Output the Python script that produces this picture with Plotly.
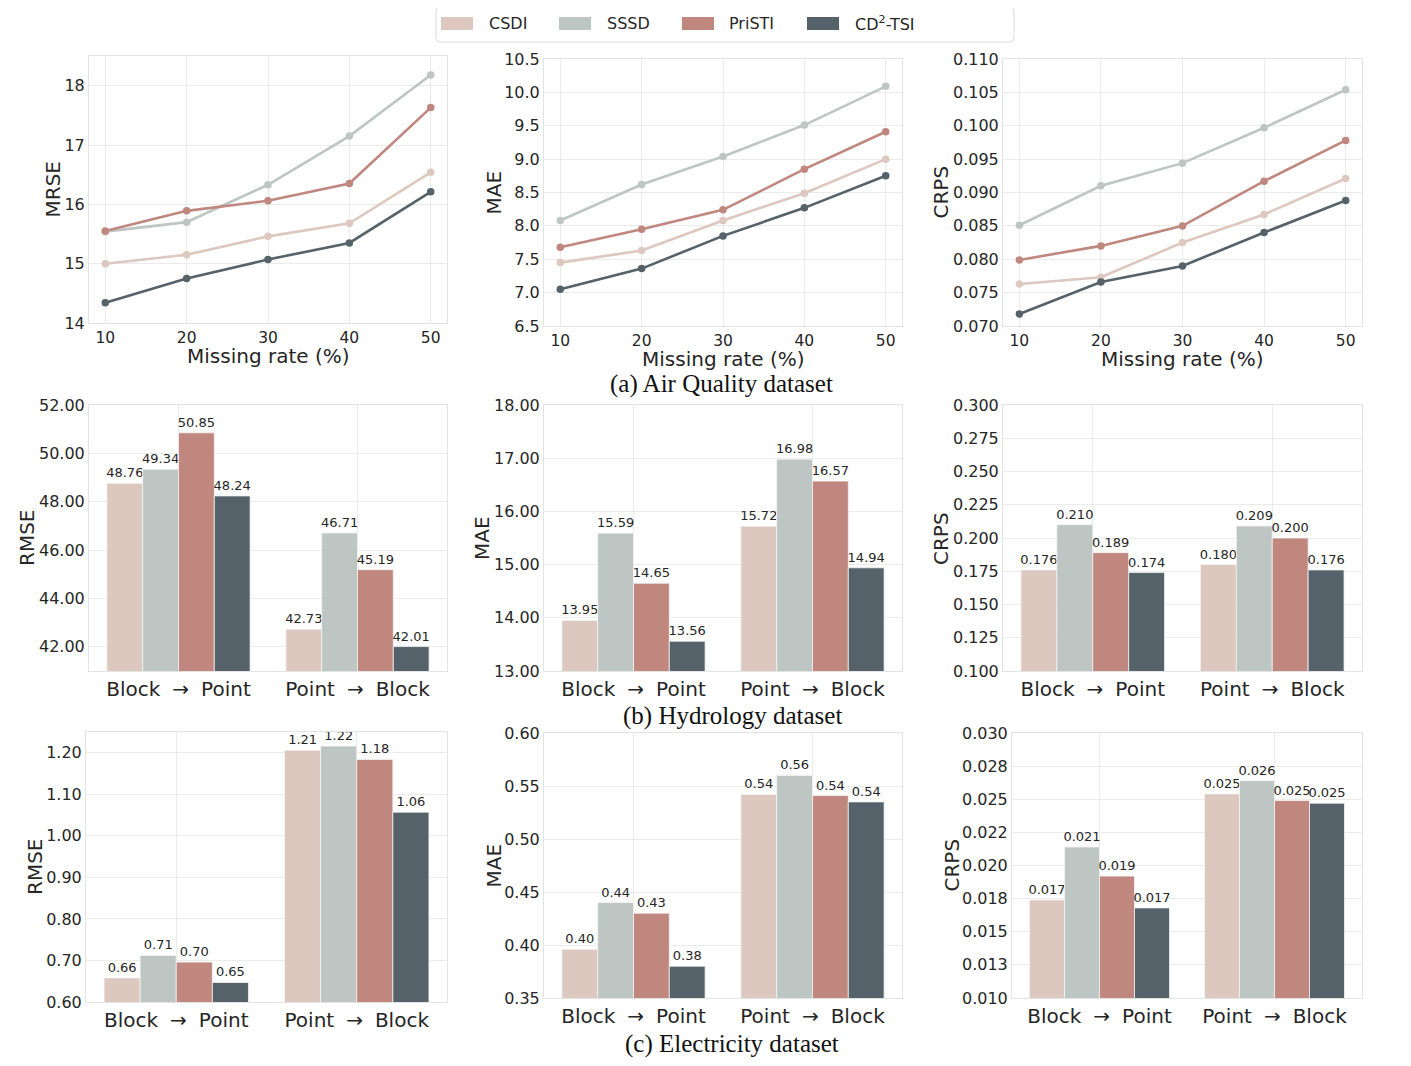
import plotly.graph_objects as go

W, H = 1411, 1066
OFF = 8  # page body margin of the rendered html

methods = ["CSDI", "SSSD", "PriSTI", "CD<sup>2</sup>-TSI"]
colors = ["#DCC8BF", "#BDC6C2", "#BF877E", "#55626A"]

# ---------------- (a) Air Quality dataset (line charts) ----------------
missing_rate = [10, 20, 30, 40, 50]

aq_mrse_csdi = [15.00, 15.15, 15.46, 15.68, 16.54]
aq_mrse_sssd = [15.54, 15.70, 16.33, 17.15, 18.18]
aq_mrse_pristi = [15.55, 15.89, 16.06, 16.35, 17.63]
aq_mrse_cd2tsi = [14.34, 14.75, 15.07, 15.35, 16.21]

aq_mae_csdi = [7.45, 7.63, 8.08, 8.49, 9.00]
aq_mae_sssd = [8.08, 8.62, 9.04, 9.51, 10.09]
aq_mae_pristi = [7.68, 7.95, 8.24, 8.85, 9.41]
aq_mae_cd2tsi = [7.05, 7.36, 7.85, 8.27, 8.75]

aq_crps_csdi = [0.0763, 0.0773, 0.0825, 0.0867, 0.0921]
aq_crps_sssd = [0.0851, 0.0910, 0.0944, 0.0997, 0.1054]
aq_crps_pristi = [0.0799, 0.0820, 0.0850, 0.0917, 0.0978]
aq_crps_cd2tsi = [0.0718, 0.0766, 0.0790, 0.0840, 0.0888]

# ---------------- (b) Hydrology dataset (bar charts) ----------------
scenarios = ["Block\u2002\u200a→\u2002\u200aPoint", "Point\u2002\u200a→\u2002\u200aBlock"]

hy_rmse_csdi = [48.76, 42.73]
hy_rmse_sssd = [49.34, 46.71]
hy_rmse_pristi = [50.85, 45.19]
hy_rmse_cd2tsi = [48.24, 42.01]

hy_mae_csdi = [13.95, 15.72]
hy_mae_sssd = [15.59, 16.98]
hy_mae_pristi = [14.65, 16.57]
hy_mae_cd2tsi = [13.56, 14.94]

hy_crps_csdi = [0.176, 0.180]
hy_crps_sssd = [0.210, 0.209]
hy_crps_pristi = [0.189, 0.200]
hy_crps_cd2tsi = [0.174, 0.176]

# ---------------- (c) Electricity dataset (bar charts) ----------------
el_rmse_csdi = [0.658, 1.206]
el_rmse_sssd = [0.712, 1.216]
el_rmse_pristi = [0.696, 1.184]
el_rmse_cd2tsi = [0.647, 1.057]

el_mae_csdi = [0.396, 0.542]
el_mae_sssd = [0.440, 0.560]
el_mae_pristi = [0.430, 0.541]
el_mae_cd2tsi = [0.380, 0.535]

el_crps_csdi = [0.0174, 0.0254]
el_crps_sssd = [0.0214, 0.0264]
el_crps_pristi = [0.0192, 0.0249]
el_crps_cd2tsi = [0.0168, 0.0247]

el_crps_ticks = [0.010, 0.0125, 0.015, 0.0175, 0.020, 0.0225, 0.025, 0.0275, 0.030]
el_crps_ticktext = ["0.010", "0.013", "0.015", "0.018", "0.020", "0.022", "0.025", "0.028", "0.030"]

# ---------------- layout helpers ----------------
TXT = "#262626"
GRID = "#EBEBEB"
BORDER = "#E3E3E3"
FONT = "DejaVu Sans"


def px_x(v):
    return (v - OFF) / W


def px_y(v):
    return 1 - (v - OFF) / H


# panel boxes in pixels: (left, right, top, bottom)
boxes = [
    (89, 447, 56, 323), (544, 902, 59, 326), (1003, 1362, 59, 326),
    (89, 447, 405, 671), (544, 902, 405, 671), (1003, 1362, 405, 671),
    (86, 447, 732, 1002), (544, 902, 733, 998), (1012, 1362, 733, 998),
]

line_panels = [
    ([aq_mrse_csdi, aq_mrse_sssd, aq_mrse_pristi, aq_mrse_cd2tsi],
     dict(range=[14, 18.5], tickvals=[14, 15, 16, 17, 18], tickformat="d")),
    ([aq_mae_csdi, aq_mae_sssd, aq_mae_pristi, aq_mae_cd2tsi],
     dict(range=[6.5, 10.5], tickvals=[6.5, 7, 7.5, 8, 8.5, 9, 9.5, 10, 10.5], tickformat=".1f")),
    ([aq_crps_csdi, aq_crps_sssd, aq_crps_pristi, aq_crps_cd2tsi],
     dict(range=[0.070, 0.110], tickvals=[0.070, 0.075, 0.080, 0.085, 0.090, 0.095, 0.100, 0.105, 0.110],
          tickformat=".3f")),
]

bar_panels = [
    ([hy_rmse_csdi, hy_rmse_sssd, hy_rmse_pristi, hy_rmse_cd2tsi], ".2f",
     dict(range=[41, 52], tickvals=[42, 44, 46, 48, 50, 52], tickformat=".2f")),
    ([hy_mae_csdi, hy_mae_sssd, hy_mae_pristi, hy_mae_cd2tsi], ".2f",
     dict(range=[13, 18], tickvals=[13, 14, 15, 16, 17, 18], tickformat=".2f")),
    ([hy_crps_csdi, hy_crps_sssd, hy_crps_pristi, hy_crps_cd2tsi], ".3f",
     dict(range=[0.1, 0.3], tickvals=[0.1, 0.125, 0.15, 0.175, 0.2, 0.225, 0.25, 0.275, 0.3], tickformat=".3f")),
    ([el_rmse_csdi, el_rmse_sssd, el_rmse_pristi, el_rmse_cd2tsi], ".2f",
     dict(range=[0.6, 1.25], tickvals=[0.6, 0.7, 0.8, 0.9, 1.0, 1.1, 1.2], tickformat=".2f")),
    ([el_mae_csdi, el_mae_sssd, el_mae_pristi, el_mae_cd2tsi], ".2f",
     dict(range=[0.35, 0.60], tickvals=[0.35, 0.40, 0.45, 0.50, 0.55, 0.60], tickformat=".2f")),
    ([el_crps_csdi, el_crps_sssd, el_crps_pristi, el_crps_cd2tsi], ".3f",
     dict(range=[0.010, 0.030], tickvals=el_crps_ticks, ticktext=el_crps_ticktext)),
]

fig = go.Figure()
layout = {}

for i, (l, r, t, b) in enumerate(boxes):
    n = i + 1
    xa = "xaxis" if n == 1 else f"xaxis{n}"
    ya = "yaxis" if n == 1 else f"yaxis{n}"
    common = dict(showgrid=True, gridcolor=GRID, gridwidth=1, zeroline=False,
                  showline=True, linecolor=BORDER, linewidth=1, mirror=True, automargin=False,
                  ticks="", tickfont=dict(family=FONT, size=16, color=TXT))
    layout[xa] = dict(domain=[px_x(l), px_x(r)], anchor=("y" if n == 1 else f"y{n}"), **common)
    layout[ya] = dict(domain=[px_y(b), px_y(t)], anchor=("x" if n == 1 else f"x{n}"), **common)

# line charts
for i, (series, yconf) in enumerate(line_panels):
    n = i + 1
    xr = "x" if n == 1 else f"x{n}"
    yr = "y" if n == 1 else f"y{n}"
    for name, col, vals in zip(methods, colors, series):
        fig.add_trace(go.Scatter(x=missing_rate, y=vals, mode="lines+markers", name=name,
                                 line=dict(color=col, width=2.6),
                                 marker=dict(color=col, size=7.5),
                                 xaxis=xr, yaxis=yr, showlegend=False, cliponaxis=False))
    xa = "xaxis" if n == 1 else f"xaxis{n}"
    ya = "yaxis" if n == 1 else f"yaxis{n}"
    layout[xa].update(range=[8, 52], tickvals=missing_rate, tickfont=dict(family=FONT, size=15.5, color=TXT))
    layout[ya].update(**yconf)

# bar charts
for j, (series, fmt, yconf) in enumerate(bar_panels):
    n = j + 4
    xr = f"x{n}"
    yr = f"y{n}"
    for name, col, vals in zip(methods, colors, series):
        fig.add_trace(go.Bar(x=scenarios, y=vals, name=name,
                             marker=dict(color=col, line=dict(color="#F4F4F4", width=0.8)),
                             text=[format(v, fmt) for v in vals], textposition="outside",
                             textfont=dict(family=FONT, size=13, color=TXT),
                             constraintext="none", cliponaxis=False,
                             xaxis=xr, yaxis=yr, showlegend=False))
    layout[f"xaxis{n}"].update(type="category", tickfont=dict(family=FONT, size=20, color=TXT))
    layout[f"yaxis{n}"].update(**yconf)

annotations = []

# y axis titles
ytitles = [("MRSE", 53), ("MAE", 493), ("CRPS", 940),
           ("RMSE", 27), ("MAE", 482), ("CRPS", 941),
           ("RMSE", 35), ("MAE", 493), ("CRPS", 951)]
for (txt, cx), (l, r, t, b) in zip(ytitles, boxes):
    annotations.append(dict(text=txt, x=px_x(cx), y=px_y((t + b) / 2), xref="paper", yref="paper",
                            textangle=-90, showarrow=False, xanchor="center", yanchor="middle",
                            font=dict(family=FONT, size=20, color=TXT)))

# x axis titles for line charts
for (l, r, t, b), cy in zip(boxes[:3], [356, 359, 359]):
    annotations.append(dict(text="Missing rate (%)", x=px_x((l + r) / 2), y=px_y(cy), xref="paper",
                            yref="paper", showarrow=False, xanchor="center", yanchor="middle",
                            font=dict(family=FONT, size=20, color=TXT)))

# captions
for txt, cx, cy in [("(a) Air Quality dataset", 721, 384),
                    ("(b) Hydrology dataset", 732, 716),
                    ("(c) Electricity dataset", 732, 1044)]:
    annotations.append(dict(text=txt, x=px_x(cx), y=px_y(cy), xref="paper", yref="paper",
                            showarrow=False, xanchor="center", yanchor="middle",
                            font=dict(family="Liberation Serif", size=25, color="#111111")))

# manual legend
shapes = []
lx0, lx1, ly0, ly1, rad = 436, 1014, 7, 42, 4
path = (f"M {px_x(lx0 + rad)} {px_y(ly0)} L {px_x(lx1 - rad)} {px_y(ly0)} "
        f"Q {px_x(lx1)} {px_y(ly0)} {px_x(lx1)} {px_y(ly0 + rad)} "
        f"L {px_x(lx1)} {px_y(ly1 - rad)} Q {px_x(lx1)} {px_y(ly1)} {px_x(lx1 - rad)} {px_y(ly1)} "
        f"L {px_x(lx0 + rad)} {px_y(ly1)} Q {px_x(lx0)} {px_y(ly1)} {px_x(lx0)} {px_y(ly1 - rad)} "
        f"L {px_x(lx0)} {px_y(ly0 + rad)} Q {px_x(lx0)} {px_y(ly0)} {px_x(lx0 + rad)} {px_y(ly0)} Z")
shapes.append(dict(type="path", path=path, xref="paper", yref="paper",
                   line=dict(color="#DADADA", width=1), fillcolor="white"))
patch_x = [441, 559, 682, 807]
text_x = [487, 605, 727, 853]
for name, col, px0, tx in zip(methods, colors, patch_x, text_x):
    shapes.append(dict(type="rect", xref="paper", yref="paper",
                       x0=px_x(px0), x1=px_x(px0 + 32), y0=px_y(30), y1=px_y(17),
                       fillcolor=col, line=dict(color=col, width=0)))
    annotations.append(dict(text=name, x=px_x(tx), y=px_y(24), xref="paper", yref="paper",
                            showarrow=False, xanchor="left", yanchor="middle",
                            font=dict(family=FONT, size=16, color=TXT)))

fig.update_layout(
    width=W, height=H, margin=dict(l=0, r=0, t=0, b=0, autoexpand=False),
    paper_bgcolor="white", plot_bgcolor="white",
    barmode="group", bargap=0.2, bargroupgap=0,
    font=dict(family=FONT, color=TXT),
    annotations=annotations, shapes=shapes, showlegend=False,
    **layout,
)

fig.write_html("out.html")
